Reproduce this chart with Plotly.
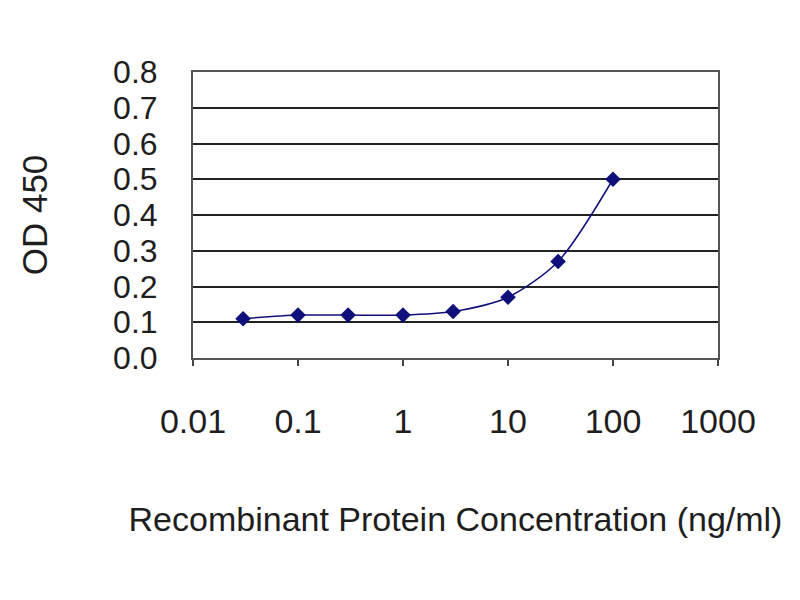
import plotly.graph_objects as go

conc = [0.03, 0.1, 0.3, 1, 3, 10, 30, 100]
od450 = [0.11, 0.12, 0.12, 0.12, 0.13, 0.17, 0.27, 0.50]
x_ticks = [0.01, 0.1, 1, 10, 100, 1000]
x_tick_labels = ["0.01", "0.1", "1", "10", "100", "1000"]
y_ticks = [0.0, 0.1, 0.2, 0.3, 0.4, 0.5, 0.6, 0.7, 0.8]
y_tick_labels = ["0.0", "0.1", "0.2", "0.3", "0.4", "0.5", "0.6", "0.7", "0.8"]

font_family = "Liberation Sans, Arial, sans-serif"
text_color = "#1e1e1e"

fig = go.Figure()
fig.add_trace(go.Scatter(
    x=conc, y=od450,
    mode="lines+markers",
    line=dict(color="#10107a", width=1.5, shape="spline", smoothing=0.8),
    marker=dict(symbol="diamond", size=12, color="#10107a"),
    showlegend=False,
))

fig.update_layout(
    width=800, height=600,
    margin=dict(l=185, r=90, t=64, b=250),
    paper_bgcolor="white",
    plot_bgcolor="white",
    font=dict(family=font_family, color=text_color),
)

fig.update_xaxes(
    type="log",
    range=[-2, 3],
    tickvals=x_ticks,
    ticktext=x_tick_labels,
    tickfont=dict(size=34, family=font_family, color=text_color),
    ticks="outside", ticklen=6, tickwidth=1.5, tickcolor="#444",
    ticklabelstandoff=26,
    showgrid=False,
    zeroline=False,
    showline=True, linecolor="#555", linewidth=2, mirror=True,
    title=dict(text="Recombinant Protein Concentration (ng/ml)",
               font=dict(size=34, family=font_family, color=text_color),
               standoff=68),
)

fig.update_yaxes(
    range=[0, 0.8],
    tickvals=y_ticks,
    ticktext=y_tick_labels,
    tickfont=dict(size=32, family=font_family, color=text_color),
    ticks="",
    ticklabelstandoff=27,
    showgrid=True, gridcolor="#222", gridwidth=2,
    zeroline=False,
    showline=True, linecolor="#555", linewidth=2, mirror=True,
    title=dict(text="OD 450",
               font=dict(size=35, family=font_family, color=text_color),
               standoff=55),
)

fig.write_html("out.html")
